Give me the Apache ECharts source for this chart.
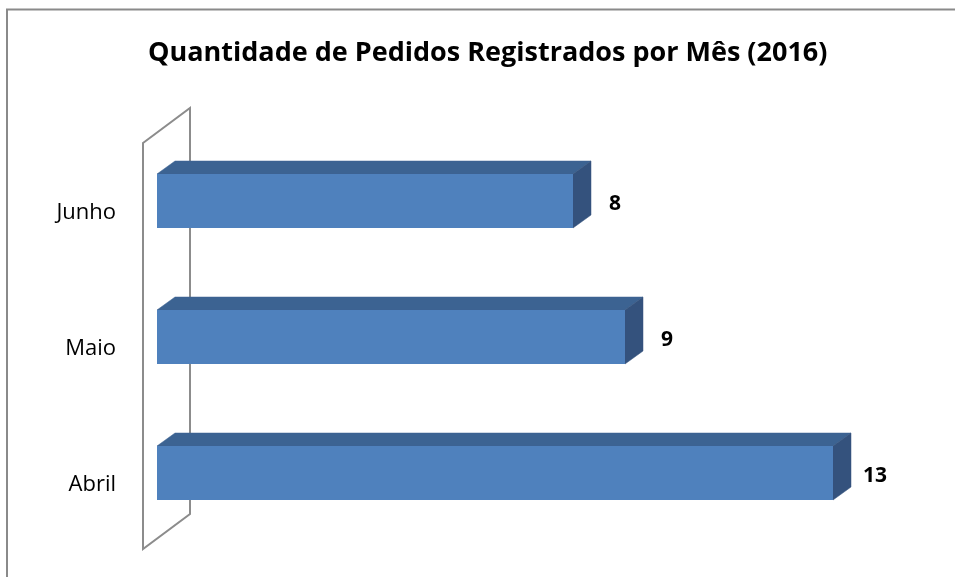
<!DOCTYPE html>
<html>
<head>
<meta charset="utf-8">
<script src="https://cdn.jsdelivr.net/npm/echarts@6/dist/echarts.min.js"></script>
<style>html,body{margin:0;padding:0;background:#fff}#c{width:955px;height:577px}</style>
</head>
<body>
<div id="c"></div>
<script>
const titleText = 'Quantidade de Pedidos Registrados por Mês (2016)';
const categories = ['Abril', 'Maio', 'Junho'];
const values = [13, 9, 8];

const GRID = {left: 157, top: 133, width: 728, height: 408};
const BAR_H = 54, DX = 18, DY = -13;
const WALL_DX = 47, WALL_DY = -35;

const chart = echarts.init(document.getElementById('c'));

const wx = GRID.left - 14, wt = GRID.top + 10, wb = GRID.top + GRID.height + 8;

chart.setOption({
  animation: false,
  backgroundColor: '#fff',
  title: {
    text: titleText, left: 143, top: 35,
    textStyle: {fontFamily: 'Open Sans', fontWeight: 'bold', fontSize: 27, color: '#000'}
  },
  graphic: [
    {type: 'rect', shape: {x: 7, y: 9.5, width: 1000, height: 1000}, style: {fill: 'none', stroke: '#8a8a8a', lineWidth: 2}, z: 0},
    {type: 'polygon', shape: {points: [[wx, wt], [wx + WALL_DX, wt + WALL_DY], [wx + WALL_DX, wb + WALL_DY], [wx, wb]]},
     style: {fill: 'none', stroke: '#8c8c8c', lineWidth: 2}, z: 0}
  ],
  grid: GRID,
  xAxis: {type: 'value', min: 0, max: 14, show: false},
  yAxis: {
    type: 'category', data: categories,
    axisLine: {show: false}, axisTick: {show: false},
    axisLabel: {fontFamily: 'Open Sans', fontSize: 22, color: '#000', margin: 41,
                verticalAlign: 'top', lineHeight: 24, padding: [0, 0, 0, 0]}
  },
  series: [{
    type: 'custom',
    z: 5,
    data: values.map((v, i) => [v, i]),
    encode: {x: 0, y: 1},
    renderItem: function (params, api) {
      const v = api.value(0), c = api.value(1);
      const p0 = api.coord([0, c]);
      const p1 = api.coord([v, c]);
      const x0 = p0[0], x1 = p1[0];
      const yt = p1[1] - BAR_H / 2, yb = p1[1] + BAR_H / 2;
      return {
        type: 'group',
        children: [
          {type: 'polygon', shape: {points: [[x0, yt], [x1, yt], [x1 + DX, yt + DY], [x0 + DX, yt + DY]]},
           style: {fill: '#3c6392', stroke: '#3c6392', lineWidth: 0.5}},
          {type: 'polygon', shape: {points: [[x1, yt], [x1 + DX, yt + DY], [x1 + DX, yb + DY], [x1, yb]]},
           style: {fill: '#34527d', stroke: '#34527d', lineWidth: 0.5}},
          {type: 'rect', shape: {x: x0, y: yt, width: x1 - x0, height: BAR_H},
           style: {fill: '#4f81bd'}},
          {type: 'text', x: x1 + 42, y: p1[1] + 3,
           style: {text: String(v), align: 'center', verticalAlign: 'middle',
                   font: 'bold 21px "Open Sans"', fill: '#000'}}
        ]
      };
    }
  }]
});
</script>
</body>
</html>
